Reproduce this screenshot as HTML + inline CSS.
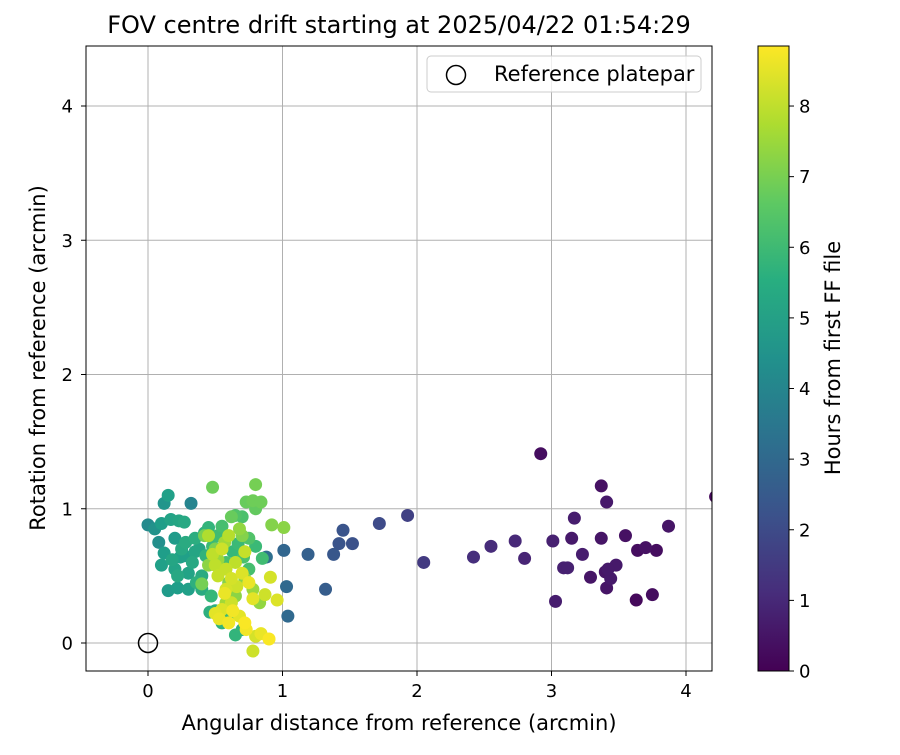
<!DOCTYPE html>
<html><head><meta charset="utf-8"><style>
body{margin:0;background:#fff;}
svg text{font-family:"DejaVu Sans","Liberation Sans",sans-serif;fill:#000;}
</style></head><body>
<svg id="chart" width="900" height="750" xmlns="http://www.w3.org/2000/svg">
<defs>
<linearGradient id="vir" x1="0" y1="1" x2="0" y2="0">
<stop offset="0" stop-color="#440154"/><stop offset="0.125" stop-color="#472d7b"/><stop offset="0.25" stop-color="#3b528b"/><stop offset="0.375" stop-color="#2c728e"/><stop offset="0.5" stop-color="#21918c"/><stop offset="0.625" stop-color="#28ae80"/><stop offset="0.75" stop-color="#5ec962"/><stop offset="0.875" stop-color="#addc30"/><stop offset="1" stop-color="#fde725"/>
</linearGradient>
<clipPath id="pc"><rect x="86" y="46" width="626" height="625"/></clipPath>
</defs>
<text x="399" y="33" font-size="24" text-anchor="middle">FOV centre drift starting at 2025/04/22 01:54:29</text>
<g id="grid"></g>
<g id="pts" clip-path="url(#pc)"></g>
<circle cx="148" cy="643" r="9.5" fill="none" stroke="#000" stroke-width="1.5"/>
<rect x="86" y="46" width="626" height="625" fill="none" stroke="#000" stroke-width="1"/>
<g id="ticks"></g>
<text x="399" y="730" font-size="21" text-anchor="middle">Angular distance from reference (arcmin)</text>
<text x="0" y="0" font-size="21" text-anchor="middle" transform="translate(45,358) rotate(-90)">Rotation from reference (arcmin)</text>
<g>
<rect x="427" y="56" width="274" height="36" rx="4" fill="#fff" fill-opacity="0.8" stroke="#ccc"/>
<circle cx="456" cy="75" r="9.5" fill="none" stroke="#000" stroke-width="1.5"/>
<text x="494" y="81" font-size="21">Reference platepar</text>
</g>
<rect x="758" y="46" width="31" height="625" fill="url(#vir)" stroke="#000" stroke-width="1"/>
<g id="cbticks"></g>
<text x="0" y="0" font-size="21" text-anchor="middle" transform="translate(840,358) rotate(-90)">Hours from first FF file</text>
</svg>
<script>
const xTicks=[0,1,2,3,4];
const yTicks=[0,1,2,3,4];
const cbTicks=[0,1,2,3,4,5,6,7,8];
const ptX=[2.92,3.37,3.41,3.17,3.87,4.22,3.01,3.15,3.37,3.55,2.73,2.80,3.23,3.09,3.12,3.29,3.48,3.64,3.70,3.78,3.40,3.44,3.41,3.03,3.63,3.75,2.55,2.42,3.42,
2.05,1.93,1.72,1.52,1.45,1.42,1.38,1.32,1.19,1.01,1.03,1.04,0.88,
0.0,0.12,0.15,0.10,0.17,0.23,0.27,0.32,0.12,0.10,0.15,0.22,0.30,0.18,0.25,0.20,0.28,0.35,0.38,0.33,0.40,0.30,0.24,0.42,0.45,0.36,0.40,0.47,0.50,0.46,0.55,0.65,0.70,0.60,0.43,0.48,0.52,0.58,0.63,0.67,0.71,0.75,0.80,0.85,0.65,0.70,0.55,0.75,0.05,0.08,0.20,0.27,0.35,0.22,
0.48,0.80,0.73,0.78,0.84,0.80,0.92,1.01,0.62,0.42,0.50,0.55,0.60,0.72,0.78,0.83,0.65,0.58,0.52,0.70,0.45,0.40,0.57,0.68,
0.48,0.55,0.52,0.58,0.62,0.55,0.50,0.53,0.60,0.68,0.72,0.73,0.70,0.75,0.78,0.80,0.78,0.84,0.90,0.91,0.96,0.87,0.65,0.72,0.60,0.45,0.57,0.63,0.50,0.62,0.58,0.66];
const ptY=[1.41,1.17,1.05,0.93,0.87,1.09,0.76,0.78,0.78,0.80,0.76,0.63,0.66,0.56,0.56,0.49,0.58,0.69,0.71,0.69,0.53,0.48,0.41,0.31,0.32,0.36,0.72,0.64,0.55,
0.60,0.95,0.89,0.74,0.84,0.74,0.66,0.40,0.66,0.69,0.42,0.20,0.64,
0.88,1.04,1.10,0.89,0.92,0.91,0.90,1.04,0.67,0.58,0.39,0.41,0.40,0.62,0.70,0.55,0.75,0.78,0.70,0.60,0.50,0.52,0.64,0.82,0.86,0.45,0.40,0.35,0.24,0.23,0.15,0.06,0.10,0.20,0.65,0.72,0.80,0.60,0.68,0.74,0.64,0.55,0.72,0.63,0.95,0.94,0.87,0.78,0.85,0.75,0.78,0.65,0.68,0.50,
1.16,1.18,1.05,1.06,1.05,1.00,0.88,0.86,0.94,0.80,0.70,0.55,0.45,0.48,0.40,0.30,0.35,0.30,0.62,0.80,0.58,0.44,0.75,0.85,
0.66,0.70,0.50,0.40,0.30,0.25,0.22,0.18,0.15,0.20,0.15,0.10,0.52,0.45,0.33,0.05,-0.06,0.07,0.03,0.49,0.32,0.36,0.60,0.68,0.80,0.80,0.37,0.24,0.58,0.48,0.55,0.42];
const ptH=[0.3,0.4,0.6,0.7,0.5,0.2,0.8,0.6,0.5,0.4,1.0,0.9,0.7,0.8,0.8,0.5,0.6,0.3,0.4,0.3,0.5,0.6,0.5,0.7,0.2,0.3,1.1,1.2,0.6,
1.5,1.7,2.0,2.2,2.3,2.3,2.4,2.6,2.7,2.9,3.0,3.0,3.2,
4.2,4.6,5.0,4.9,5.1,5.2,5.3,4.0,4.9,5.0,4.8,4.9,5.0,5.2,5.3,5.1,5.4,5.5,5.2,5.3,5.4,5.1,5.0,5.6,5.8,5.6,5.4,5.9,5.5,5.6,5.7,5.8,5.6,6.0,5.7,6.0,6.1,6.2,5.9,6.0,6.3,6.2,6.0,6.1,6.4,6.3,6.2,6.4,4.5,4.4,4.8,5.0,5.2,5.3,
6.9,7.0,6.8,6.9,6.9,6.7,7.2,7.3,6.8,7.0,7.1,7.4,7.2,7.3,7.5,7.4,7.3,7.6,7.5,7.2,7.3,7.0,7.6,7.4,
8.0,8.2,8.1,8.3,8.2,8.4,8.5,8.6,8.7,8.5,8.8,8.7,8.4,8.6,8.5,8.3,8.2,8.6,8.8,8.3,8.4,8.2,8.0,8.1,7.9,7.8,8.6,8.7,8.0,8.3,8.1,8.2];
const HMAX=8.85;
const X=v=>148+v*134.5, Y=v=>643-v*134.25, CB=v=>671-v/HMAX*625;
const vir=[[68,1,84],[72,40,120],[62,74,137],[49,104,142],[38,130,142],[31,158,137],[53,183,121],[109,205,89],[180,222,44],[253,231,37]];
function col(h){let t=Math.max(0,Math.min(1,h/HMAX))*(vir.length-1);let i=Math.min(Math.floor(t),vir.length-2),f=t-i;
const c=vir[i].map((a,k)=>Math.round(a+(vir[i+1][k]-a)*f));return `rgb(${c})`;}
const NS="http://www.w3.org/2000/svg";
function mk(t,a,p){const e=document.createElementNS(NS,t);for(const k in a)e.setAttribute(k,a[k]);p.appendChild(e);return e;}
const grid=document.getElementById('grid'),ticks=document.getElementById('ticks'),pts=document.getElementById('pts'),cbt=document.getElementById('cbticks');
xTicks.forEach(v=>{
const g=mk('line',{x1:X(v),x2:X(v),y1:46,y2:671,stroke:'#b0b0b0','stroke-width':1},grid);


mk('line',{x1:X(v),x2:X(v),y1:671,y2:676,stroke:'#000'},ticks);
const t=mk('text',{x:X(v),y:697,'font-size':18,'text-anchor':'middle'},ticks);t.textContent=v;


});
yTicks.forEach(v=>{
const g=mk('line',{x1:86,x2:712,y1:Y(v),y2:Y(v),stroke:'#b0b0b0','stroke-width':1},grid);


mk('line',{x1:81,x2:86,y1:Y(v),y2:Y(v),stroke:'#000'},ticks);
const t=mk('text',{x:73,y:Y(v)+6.5,'font-size':18,'text-anchor':'end'},ticks);t.textContent=v;


});
cbTicks.forEach(v=>{
mk('line',{x1:789,x2:794,y1:CB(v),y2:CB(v),stroke:'#000'},cbt);
const t=mk('text',{x:799,y:CB(v)+6.5,'font-size':18},cbt);t.textContent=v;


});
const order=ptH.map((h,i)=>i).sort((a,b)=>ptH[a]-ptH[b]);
order.forEach(i=>{
const c=mk('circle',{cx:X(ptX[i]),cy:Y(ptY[i]),r:6.5,fill:col(ptH[i])},pts);


});
</script>
</body></html>
